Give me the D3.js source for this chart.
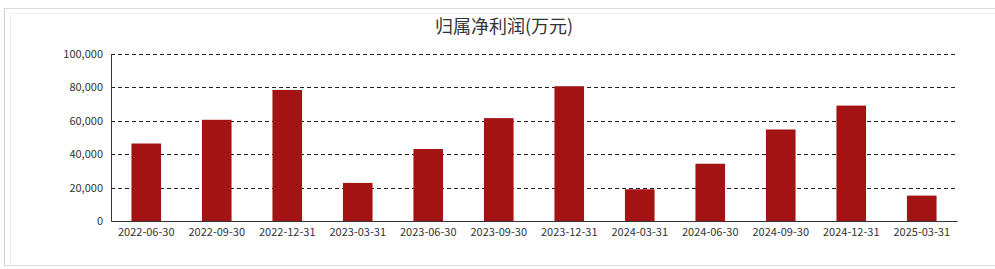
<!DOCTYPE html>
<html>
<head>
<meta charset="utf-8">
<style>
  body { margin: 0; background: #fff; font-family: "Microsoft YaHei", "Noto Sans CJK SC", sans-serif; }
  .frame { position: absolute; left: 4px; top: 8px; width: 995px; height: 258px; border-left: 1px solid #c9d5dc; border-top: 1px solid #d8dde0; border-bottom: 1px solid #d8dde0; box-sizing: border-box; }
  .inner { position: absolute; left: 10px; top: 13px; width: 985px; height: 252px; border-left: 1px solid #f0e6ea; border-top: 1px solid #f1f1f1; box-sizing: border-box; }
</style>
</head>
<body>
<div class="frame"></div>
<div class="inner"></div>
<svg id="chart" width="995" height="269" style="position:absolute;left:0;top:0"></svg>
<script src="https://cdn.jsdelivr.net/npm/d3@7/dist/d3.min.js"></script>
<script>
var title = "归属净利润(万元)";
var dates = ["2022-06-30", "2022-09-30", "2022-12-31", "2023-03-31", "2023-06-30", "2023-09-30",
             "2023-12-31", "2024-03-31", "2024-06-30", "2024-09-30", "2024-12-31", "2025-03-31"];
var profit = [46400, 60600, 78500, 22800, 43100, 61600, 80700, 19000, 34300, 54800, 69100, 15200];
var yTicks = [0, 20000, 40000, 60000, 80000, 100000];

var margin = {top: 54, left: 111, right: 38, bottom: 48};
var width = 995 - margin.left - margin.right,
    height = 269 - margin.top - margin.bottom;

var svg = d3.select("#chart");

svg.append("text")
  .attr("x", 504)
  .attr("y", 33)
  .attr("text-anchor", "middle")
  .attr("font-size", "18px")
  .attr("fill", "#333")
  .text(title);

var g = svg.append("g")
  .attr("transform", "translate(" + margin.left + "," + margin.top + ")");

var x = d3.scaleBand().domain(dates).range([0, width]).paddingInner(0.58).paddingOuter(0.29);
var y = d3.scaleLinear().domain([0, 100000]).range([height, 0]);

// dashed grid
g.selectAll(".grid")
  .data(yTicks.slice(1))
  .enter().append("line")
    .attr("x1", 0).attr("x2", width)
    .attr("y1", function(d) { return Math.round(y(d)) + 0.5; })
    .attr("y2", function(d) { return Math.round(y(d)) + 0.5; })
    .attr("stroke", "#222")
    .attr("stroke-dasharray", "4,3");

g.selectAll(".bar")
  .data(profit)
  .enter().append("rect")
    .attr("x", function(d, i) { return x(dates[i]); })
    .attr("y", function(d) { return y(d); })
    .attr("width", x.bandwidth())
    .attr("height", function(d) { return height - y(d); })
    .attr("fill", "#a31313");

var yAxis = g.append("g")
  .call(d3.axisLeft(y).tickValues(yTicks).tickSize(0).tickPadding(8).tickFormat(d3.format(",")));
yAxis.select(".domain").attr("stroke", "#333");
yAxis.selectAll("text").attr("font-size", "11px").attr("fill", "#333")
  .attr("font-family", "'Microsoft YaHei', 'Noto Sans CJK SC', sans-serif");

var xAxis = g.append("g")
  .attr("transform", "translate(0," + height + ")")
  .call(d3.axisBottom(x).tickSize(0).tickPadding(7));
xAxis.select(".domain").attr("stroke", "#333");
xAxis.selectAll("text").attr("font-size", "11px").attr("fill", "#333")
  .attr("font-family", "'Microsoft YaHei', 'Noto Sans CJK SC', sans-serif");
</script>
</body>
</html>
